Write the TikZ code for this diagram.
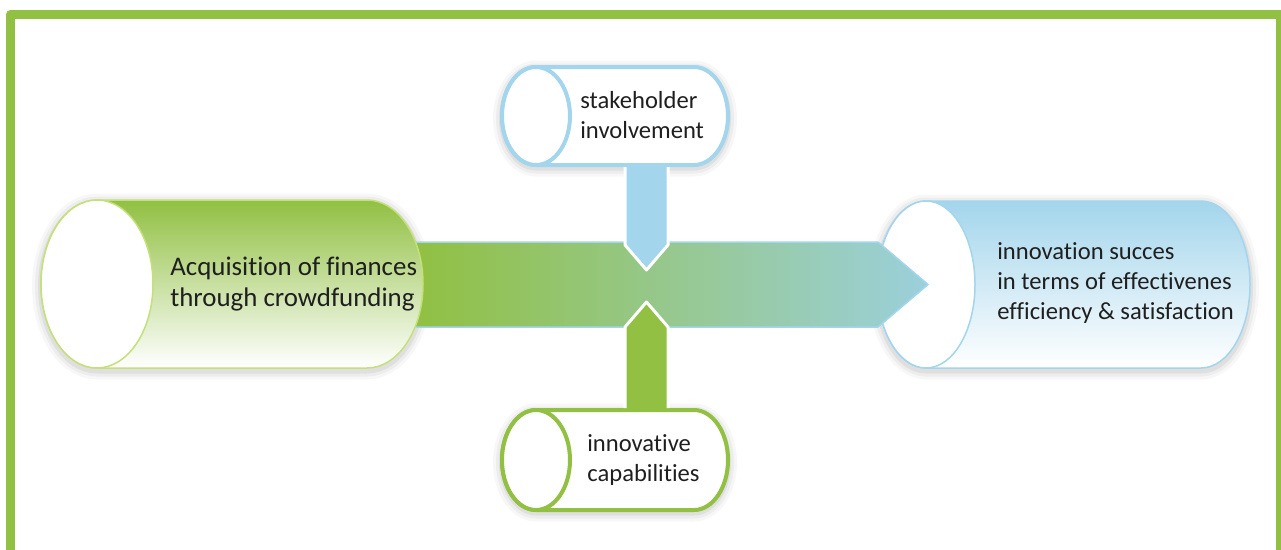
\documentclass[tikz,border=0pt]{standalone}
\usepackage{fontspec}
\setmainfont{Carlito}[Ligatures=NoCommon]
\definecolor{leaf}{RGB}{145,192,66}
\definecolor{lime}{RGB}{196,224,122}
\definecolor{sky}{RGB}{163,213,236}
\definecolor{teal}{RGB}{155,208,220}
% outline of a lying cylinder: centre of the front ellipse, length, radii
\newcommand{\cylpath}[5]{(#1,#2+#5) -- (#1+#3,#2+#5) arc[start angle=90,end angle=-90,x radius=#4,y radius=#5] -- (#1,#2-#5) arc[start angle=270,end angle=90,x radius=#4,y radius=#5] -- cycle}
\begin{document}
\begin{tikzpicture}[x=0.02cm,y=0.02cm,line join=round,
	txt/.style={anchor=west,align=left,inner sep=0pt,text=black!88,font=\fontsize{14}{17}\selectfont},
	bigcyl/.style={line width=0.03cm},
	smallcyl/.style={line width=0.08cm,fill=white},
	pointer/.style={draw=white,line width=0.06cm}]
	\useasboundingbox (0,0) rectangle (1281,549);
	\path
	(97,265) coordinate (L)
	(926,264.5) coordinate (R)
	(536,433) coordinate (S)
	(536,89) coordinate (C)
	(928,264.5) coordinate (tip)
	(646.5,279) coordinate (down)
	(646.5,247) coordinate (up)
	;
	% frame
	\draw[leaf,line width=0.18cm] (10.5,-20) -- (10.5,534.5) -- (1280.5,534.5) -- (1280.5,-20);
	% soft shadows
	\foreach \w/\o in {0.36/0.03,0.24/0.04,0.12/0.06}{
		\draw[black,opacity=\o,line width=\w cm,yshift=-0.05cm] \cylpath{97}{265}{270}{56}{84};
		\draw[black,opacity=\o,line width=\w cm,yshift=-0.05cm] \cylpath{926}{264.5}{275}{49}{83.5};
		\draw[black,opacity=\o,line width=\w cm,yshift=-0.05cm] \cylpath{536}{433}{158}{34}{49};
		\draw[black,opacity=\o,line width=\w cm,yshift=-0.05cm] \cylpath{536}{89}{158}{34}{50};
	}
	% right cylinder
	\draw[bigcyl,draw=sky,top color=sky,bottom color=white] \cylpath{926}{264.5}{275}{49}{83.5};
	\draw[bigcyl,draw=sky,fill=white] (R) ellipse [x radius=49,y radius=83.5];
	% band
	\draw[sky,line width=0.03cm,left color=leaf,right color=teal]
	(415,307) -- (878,307) -- (tip) -- (878,222) -- (415,222) -- cycle;
	% left cylinder
	\draw[bigcyl,draw=lime,top color=leaf,bottom color=white] \cylpath{97}{265}{270}{56}{84};
	\draw[bigcyl,draw=lime,fill=white] (L) ellipse [x radius=56,y radius=84];
	% small cylinders
	\draw[smallcyl,draw=sky] \cylpath{536}{433}{158}{34}{49};
	\draw[smallcyl,draw=sky] (S) ellipse [x radius=34,y radius=49];
	\draw[smallcyl,draw=leaf] \cylpath{536}{89}{158}{34}{50};
	\draw[smallcyl,draw=leaf] (C) ellipse [x radius=34,y radius=50];
	% pointers into the band
	\draw[pointer,fill=sky] (625,382) -- (625,304) -- (down) -- (668,304) -- (668,382);
	\draw[pointer,fill=leaf] (625,141) -- (625,222) -- (up) -- (668,222) -- (668,141);
	% texts
	\node[txt,font=\fontsize{15.3}{17.6}\selectfont] (acq) at (170,265) {Acquisition of finances\\through crowdfunding};
	\node[txt] (succ) at (997,266) {innovation succes\\in terms of effectivenes\\efficiency \& satisfaction};
	\node[txt] (stake) at (580,434) {stakeholder\\involvement};
	\node[txt] (capab) at (587,89) {innovative\\capabilities};
\end{tikzpicture}
\end{document}
